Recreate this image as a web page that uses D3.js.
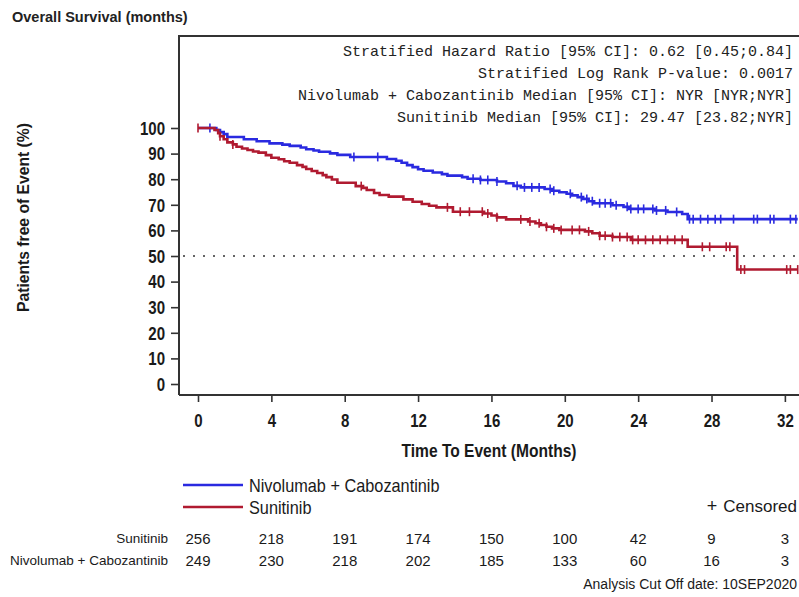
<!DOCTYPE html>
<html>
<head>
<meta charset="utf-8">
<script src="https://cdn.jsdelivr.net/npm/d3@7"></script>
<style>
  html, body { margin: 0; padding: 0; background: #fff; }
  svg { display: block; }
  text { font-family: "Liberation Sans Narrow", "Arial Narrow", "Liberation Sans", Arial, sans-serif; }
</style>
</head>
<body>
<svg id="chart" width="799" height="597"></svg>
<script>
// ---------------- data ----------------
const xTicks = [0, 4, 8, 12, 16, 20, 24, 28, 32];
const yTicks = [0, 10, 20, 30, 40, 50, 60, 70, 80, 90, 100];

const seriesNames = ["Nivolumab + Cabozantinib", "Sunitinib"];

const blueTimes = [0, 1.0, 1.2, 1.4, 1.6, 2.5, 3.2, 3.9, 4.6, 5.0, 5.6, 5.9, 6.3, 6.6, 7.2, 7.6, 8.3, 10.3, 10.8, 11.1, 11.4, 11.7, 12.0, 12.3, 12.8, 13.3, 13.6, 14.4, 14.7, 15.4, 16.3, 16.8, 17.2, 17.6, 18.9, 19.3, 19.7, 20.1, 20.4, 20.7, 21.0, 21.3, 21.6, 22.6, 23.2, 23.5, 24.9, 25.6, 26.4, 26.7];
const blueSurv  = [100, 99.2, 98.4, 97.6, 96.5, 95.6, 94.8, 94.0, 93.5, 93.0, 92.4, 91.7, 91.2, 90.7, 90.1, 89.5, 88.7, 87.9, 87.2, 86.4, 85.5, 84.7, 83.9, 83.3, 82.6, 82.0, 81.4, 80.8, 80.2, 79.7, 79.1, 78.4, 77.4, 76.8, 76.2, 75.5, 74.9, 74.3, 73.7, 73.0, 72.3, 71.4, 70.6, 69.8, 69.2, 68.4, 67.8, 67.2, 66.4, 64.4];
const blueCensor = [0.65, 8.5, 9.8, 15.0, 15.4, 15.8, 16.3, 17.4, 17.8, 18.2, 18.6, 19.2, 19.4, 20.3, 20.9, 21.2, 21.5, 21.9, 22.2, 22.5, 22.8, 23.4, 23.6, 24.0, 24.3, 24.8, 25.0, 25.5, 26.1, 26.8, 27.0, 27.4, 27.8, 28.2, 28.5, 29.2, 30.3, 30.5, 31.2, 31.4, 32.3, 32.6];
const blueEnd = 32.7;

const redTimes = [0, 0.9, 1.1, 1.2, 1.4, 1.6, 1.9, 2.1, 2.4, 2.7, 3.0, 3.3, 3.7, 4.0, 4.4, 4.7, 5.0, 5.4, 5.7, 5.9, 6.2, 6.5, 6.8, 7.0, 7.3, 7.6, 8.6, 9.0, 9.2, 9.6, 9.9, 10.4, 11.2, 11.7, 12.2, 12.6, 13.0, 13.9, 15.6, 16.0, 16.3, 16.8, 18.0, 18.4, 18.7, 19.0, 19.3, 19.7, 21.1, 21.5, 21.9, 22.6, 23.6, 26.7, 29.4];
const redSurv  = [100, 99.2, 98.0, 96.8, 95.6, 94.4, 93.6, 92.7, 92.0, 91.4, 90.8, 90.4, 89.4, 88.4, 87.8, 87.0, 86.4, 85.5, 84.8, 84.0, 83.2, 82.4, 81.6, 80.8, 79.9, 78.6, 77.3, 76.6, 75.8, 74.6, 73.8, 73.2, 72.1, 71.2, 70.3, 69.6, 69.0, 67.3, 66.6, 65.8, 65.1, 64.3, 63.5, 62.8, 62.1, 61.4, 60.8, 60.2, 59.6, 58.9, 57.9, 57.4, 56.3, 53.6, 44.7];
const redCensor = [0, 1.2, 1.9, 8.9, 13.6, 14.3, 14.8, 15.5, 15.8, 16.3, 17.6, 18.1, 18.6, 19.0, 19.4, 19.8, 20.4, 20.8, 21.3, 21.9, 22.2, 22.6, 23.0, 23.4, 23.7, 24.0, 24.4, 24.8, 25.2, 25.6, 26.0, 26.4, 27.5, 27.9, 28.8, 29.0, 29.6, 29.8, 32.1, 32.3, 32.7];
const redEnd = 32.7;

const riskSunitinib = [256, 218, 191, 174, 150, 100, 42, 9, 3];
const riskNivoCabo  = [249, 230, 218, 202, 185, 133, 60, 16, 3];

const statsLines = [
  "Stratified Hazard Ratio [95% CI]: 0.62 [0.45;0.84]",
  "Stratified Log Rank P-value: 0.0017",
  "Nivolumab + Cabozantinib Median [95% CI]: NYR [NYR;NYR]",
  "Sunitinib Median [95% CI]: 29.47 [23.82;NYR]"
];

// ---------------- drawing ----------------
const BLUE = "#2a2ae0";
const RED = "#b01a30";
const AX = "#333";
const INK = "#1a1a1a";

const svg = d3.select("#chart");
const pLeft = 179, pRight = 799, pTop = 36, pBottom = 395;

const x = d3.scaleLinear().domain([-1.036, 32.77]).range([pLeft, pRight]);
const y = d3.scaleLinear().domain([0, 100]).range([384, 128]);

// horizontally condense text (mimics a narrow font face)
function condense(sel, factor) {
  sel.each(function () {
    const len = this.getComputedTextLength();
    d3.select(this).attr("textLength", len * factor).attr("lengthAdjust", "spacingAndGlyphs");
  });
}

// title
svg.append("text").attr("x", 12).attr("y", 22)
  .style("font-family", "'Liberation Sans', Arial, sans-serif")
  .attr("font-weight", "bold").attr("font-size", 14.5).attr("fill", "#222")
  .text("Overall Survival (months)");

// frame
svg.append("path")
  .attr("d", `M${pLeft},${pBottom}V${pTop}H${pRight}`)
  .attr("fill", "none").attr("stroke", AX).attr("stroke-width", 2);
svg.append("line").attr("x1", pLeft).attr("x2", pRight).attr("y1", pBottom).attr("y2", pBottom)
  .attr("stroke", AX).attr("stroke-width", 2);

// axes
const yAxis = svg.append("g").attr("transform", `translate(${pLeft},0)`)
  .call(d3.axisLeft(y).tickValues(yTicks).tickSize(8).tickPadding(6));
const xAxis = svg.append("g").attr("transform", `translate(0,${pBottom})`)
  .call(d3.axisBottom(x).tickValues(xTicks).tickSize(7).tickPadding(9));
[yAxis, xAxis].forEach(g => {
  g.attr("font-family", null).attr("font-size", null);
  g.select(".domain").remove();
  g.selectAll(".tick line").attr("stroke", AX).attr("stroke-width", 1.6);
  g.selectAll(".tick text")
    .attr("font-weight", "bold").attr("font-size", 17.5).attr("fill", INK);
});
yAxis.selectAll(".tick text").attr("dy", "0.36em");
xAxis.selectAll(".tick text").attr("dy", "0.9em");
condense(yAxis.selectAll(".tick text"), 0.86);
condense(xAxis.selectAll(".tick text"), 0.86);

// axis titles
svg.append("text")
  .attr("transform", "translate(28.5,217.5) rotate(-90)")
  .attr("text-anchor", "middle")
  .attr("font-weight", "bold").attr("font-size", 16).attr("fill", INK)
  .attr("textLength", 189).attr("lengthAdjust", "spacingAndGlyphs")
  .text("Patients free of Event (%)");

svg.append("text")
  .attr("x", 489).attr("y", 457).attr("text-anchor", "middle")
  .attr("font-weight", "bold").attr("font-size", 18).attr("fill", INK)
  .attr("textLength", 175).attr("lengthAdjust", "spacingAndGlyphs")
  .text("Time To Event (Months)");

// 50% reference line
svg.append("line")
  .attr("x1", pLeft + 4).attr("x2", pRight).attr("y1", y(50)).attr("y2", y(50))
  .attr("stroke", "#333").attr("stroke-width", 1.5).attr("stroke-dasharray", "2,8");

// stats text
statsLines.forEach((t, i) => {
  svg.append("text").attr("x", 793).attr("y", 56 + i * 22)
    .attr("text-anchor", "end")
    .style("font-family", "'Liberation Mono', 'Courier New', monospace")
    .attr("font-size", 15).attr("fill", "#222")
    .text(t);
});

// curves
function stepData(times, surv, end) {
  const pts = times.map((t, i) => [t, surv[i]]);
  pts.push([end, surv[surv.length - 1]]);
  return pts;
}
function survAt(times, surv, t) {
  let s = surv[0];
  for (let i = 0; i < times.length; i++) { if (times[i] <= t) s = surv[i]; }
  return s;
}
const line = d3.line().x(d => x(d[0])).y(d => y(d[1])).curve(d3.curveStepAfter);

const series = [
  { times: blueTimes, surv: blueSurv, censor: blueCensor, end: blueEnd, color: BLUE },
  { times: redTimes, surv: redSurv, censor: redCensor, end: redEnd, color: RED }
];
series.forEach(s => {
  svg.append("path").datum(stepData(s.times, s.surv, s.end))
    .attr("d", line).attr("fill", "none")
    .attr("stroke", s.color).attr("stroke-width", 2.6);
  svg.append("g").selectAll("line").data(s.censor).join("line")
    .attr("x1", d => x(d)).attr("x2", d => x(d))
    .attr("y1", d => y(survAt(s.times, s.surv, d)) - 4.5)
    .attr("y2", d => y(survAt(s.times, s.surv, d)) + 4.5)
    .attr("stroke", s.color).attr("stroke-width", 1.6);
});

// legend
const legend = [
  { name: seriesNames[0], color: BLUE, yy: 485 },
  { name: seriesNames[1], color: RED, yy: 507 }
];
legend.forEach(l => {
  svg.append("line").attr("x1", 183).attr("x2", 243).attr("y1", l.yy).attr("y2", l.yy)
    .attr("stroke", l.color).attr("stroke-width", 2.6);
  svg.append("text").attr("x", 249).attr("y", l.yy + 6.5)
    .attr("font-size", 18.5).attr("fill", INK).text(l.name)
    .call(condense, 0.88);
});
svg.append("text").attr("x", 712).attr("y", 511.5)
  .attr("text-anchor", "middle").attr("font-size", 18).attr("fill", INK)
  .text("+");
svg.append("text").attr("x", 797).attr("y", 511.5)
  .attr("text-anchor", "end").attr("font-size", 17).attr("fill", INK)
  .text("Censored");

// risk table
const riskRows = [
  { label: "Sunitinib", vals: riskSunitinib, yy: 538 },
  { label: "Nivolumab + Cabozantinib", vals: riskNivoCabo, yy: 560 }
];
riskRows.forEach(r => {
  svg.append("text").attr("x", 168).attr("y", r.yy + 5)
    .attr("text-anchor", "end").attr("font-size", 13.5).attr("fill", INK).text(r.label);
  svg.append("g").selectAll("text").data(r.vals).join("text")
    .attr("x", (d, i) => x(xTicks[i])).attr("y", r.yy + 5.5)
    .attr("text-anchor", "middle").attr("font-size", 15).attr("fill", INK)
    .text(d => d);
});

svg.append("text").attr("x", 797).attr("y", 588.5)
  .attr("text-anchor", "end").attr("font-size", 14).attr("fill", INK)
  .text("Analysis Cut Off date: 10SEP2020");
</script>
</body>
</html>
